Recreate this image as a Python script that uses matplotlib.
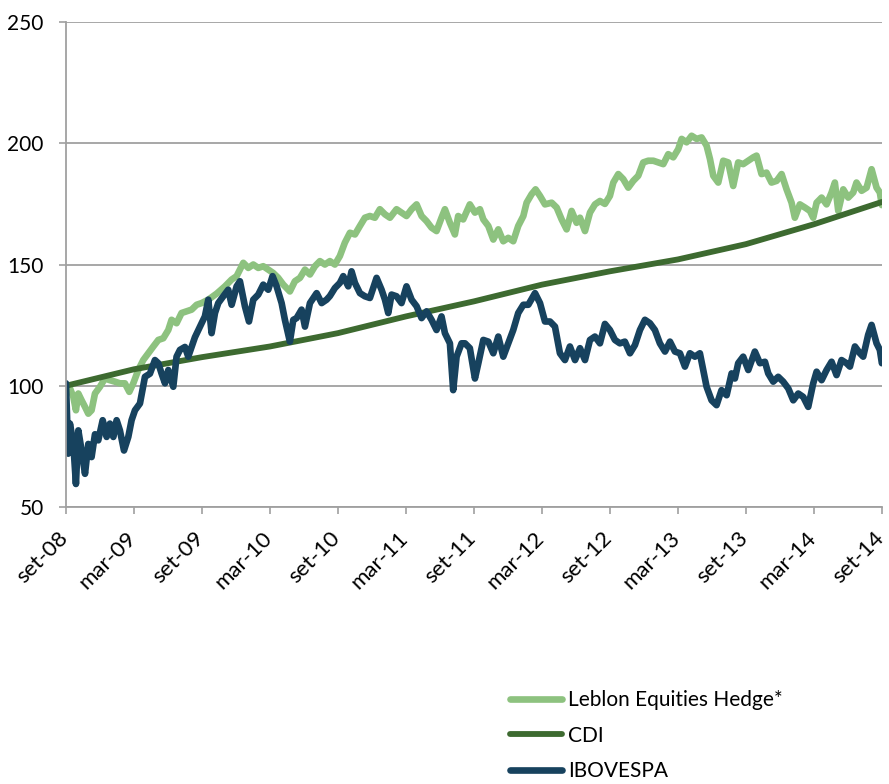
import matplotlib
matplotlib.use("Agg")
import matplotlib.pyplot as plt
import matplotlib.transforms as mtransforms

plt.rcParams["font.family"] = ["Lato", "DejaVu Sans"]

# x values are months since set-08
tick_labels = ["set-08", "mar-09", "set-09", "mar-10", "set-10", "mar-11", "set-11",
               "mar-12", "set-12", "mar-13", "set-13", "mar-14", "set-14"]

leblon_months = [
    0, 0.35, 0.65, 0.88, 1.09, 1.38, 1.68, 1.97, 2.26, 2.56, 3.0, 3.44, 3.88, 4.32, 4.76,
    5.2, 5.59, 5.94, 6.38, 6.82, 7.26, 7.71, 8.15, 8.59, 9.03, 9.32, 9.76, 10.2, 10.65,
    11.09, 11.53, 11.97, 12.56, 13.3, 14.03, 14.62, 15.06, 15.65, 16.09, 16.53, 16.97,
    17.41, 17.85, 18.29, 18.73, 19.18, 19.76, 20.2, 20.65, 21.09, 21.53, 21.97, 22.41,
    22.85, 23.29, 23.73, 24.17, 24.61, 25.06, 25.5, 25.94, 26.38, 26.82, 27.26, 27.7,
    28.15, 28.59, 29.17, 29.61, 30.05, 30.5, 30.94, 31.38, 31.82, 32.26, 32.7, 33.14,
    33.44, 33.88, 34.32, 34.61, 35.05, 35.64, 36.09, 36.53, 36.83, 37.27, 37.71, 38.15,
    38.59, 39.03, 39.47, 39.91, 40.36, 40.65, 41.09, 41.44, 41.83, 42.27, 42.86, 43.3,
    43.74, 44.18, 44.62, 45.06, 45.36, 45.8, 46.24, 46.68, 47.12, 47.56, 48.0, 48.3,
    48.74, 49.18, 49.62, 50.06, 50.5, 50.94, 51.38, 51.83, 52.27, 52.71, 53.15, 53.59,
    54.03, 54.33, 54.77, 55.21, 55.65, 56.09, 56.53, 56.83, 57.12, 57.56, 58.0, 58.44,
    58.88, 59.32, 59.76, 60.21, 60.65, 60.94, 61.38, 61.82, 62.26, 62.71, 63.15, 63.59,
    64.03, 64.32, 64.76, 65.21, 65.65, 65.94, 66.24, 66.68, 67.12, 67.56, 67.85, 68.15,
    68.59, 69.03, 69.47, 69.76, 70.21, 70.65, 71.09, 71.53, 71.82, 72.0]
leblon = [
    100, 99, 95.4, 89.9, 96.8, 94, 91.3, 88.5, 89.9, 96.8, 99.6, 103, 102.3, 101.7, 101,
    101, 97.5, 101, 106.5, 110.6, 113.4, 116.2, 118.9, 119.6, 123, 127.2, 125.8, 130, 130.7,
    131.4, 133.4, 134.1, 135.5, 138, 141, 143.8, 145.2, 150.7, 148.6, 150, 148.6,
    149.3, 147.9, 146.5, 144.5, 141.7, 138.9, 143.1, 144.5, 147.9, 145.9, 149.3, 151.4,
    150, 151.4, 150, 153.5, 159, 163.1, 162.4, 165.9, 169.3, 170, 169.3, 172.8,
    170.7, 169.3, 172.8, 171.4, 170, 172.8, 174.8, 170, 167.9, 165.2, 163.8, 169.3,
    172.8, 167.2, 162.4, 170, 168.6, 174.8, 171.4, 172.8, 168.6, 165.9, 160.3, 164.5,
    159.6, 161, 159.6, 165.9, 170, 175.5, 179, 181, 178.3, 174.8, 175.5, 173.5,
    168.6, 164.5, 172.1, 167.2, 169.3, 163.8, 171.4, 174.8, 176.2, 175, 178.3, 183.8,
    187.3, 185.2, 181.7, 184.5, 186.6, 192.1, 192.8, 192.8, 192.1, 191.4, 195.5, 194.2,
    197.6, 201.8, 200.4, 203.1, 201.8, 202.4, 199, 193.5, 186.6, 183.8, 192.8, 192.1,
    182.4, 192.1, 191.4, 192.8, 194.2, 194.9, 187.3, 187.9, 183.8, 184.5, 187.3, 181,
    175.5, 169.3, 174.8, 173.5, 172.1, 169.3, 175.5, 177.6, 174.8, 179.7, 183.8, 172.1,
    181, 177.6, 179.7, 183.8, 180.4, 181.7, 189.3, 181.7, 179.7, 174.5]

cdi_months = [0, 6, 12, 18, 24, 30, 36, 42, 48, 54, 60, 66, 72]
cdi = [100, 106.8, 111.8, 116.2, 121.7, 128.6, 134.8, 141.7, 147.2, 152.1, 158.4, 166.6, 175.8]

ibov_months = [
    0, 0.2, 0.35, 0.65, 0.88, 1.09, 1.38, 1.68, 1.97, 2.26, 2.56, 2.85, 3.24, 3.59, 3.88,
    4.18, 4.47, 4.76, 5.12, 5.5, 5.79, 6.09, 6.53, 6.97, 7.41, 7.85, 8.15, 8.44, 8.74,
    9.03, 9.47, 9.76, 10.06, 10.5, 10.79, 11.09, 11.38, 11.68, 11.97, 12.26, 12.56, 12.85,
    13.15, 13.44, 13.88, 14.32, 14.62, 15.06, 15.35, 15.79, 16.15, 16.53, 16.97, 17.41,
    17.85, 18.23, 18.59, 19.03, 19.32, 19.76, 20.06, 20.35, 20.79, 21.09, 21.53, 22.12,
    22.56, 23.0, 23.29, 23.73, 24.17, 24.47, 24.91, 25.2, 25.5, 25.94, 26.38, 26.82,
    27.41, 27.85, 28.15, 28.44, 28.73, 29.17, 29.61, 30.05, 30.5, 30.94, 31.38, 31.82,
    32.26, 32.7, 33.14, 33.44, 33.88, 34.17, 34.47, 34.91, 35.21, 35.64, 36.09, 36.39,
    36.83, 37.27, 37.71, 38.15, 38.59, 39.03, 39.47, 39.91, 40.36, 40.8, 41.39, 41.83,
    42.27, 42.71, 43.15, 43.59, 44.03, 44.47, 44.92, 45.36, 45.8, 46.24, 46.68, 47.12,
    47.56, 48.0, 48.44, 48.88, 49.32, 49.77, 50.21, 50.65, 51.09, 51.53, 51.97, 52.41,
    52.86, 53.3, 53.74, 54.18, 54.62, 55.06, 55.5, 55.94, 56.24, 56.53, 56.97, 57.41,
    57.85, 58.3, 58.74, 59.03, 59.32, 59.76, 60.21, 60.79, 61.24, 61.68, 61.97, 62.41,
    62.85, 63.29, 63.74, 64.18, 64.62, 65.06, 65.5, 65.94, 66.24, 66.68, 67.12, 67.56,
    68.0, 68.44, 68.88, 69.18, 69.62, 70.06, 70.35, 70.79, 71.09, 71.53, 71.82, 72.0]
ibov = [
    101, 72, 84.4, 76, 59.5, 81.6, 73.3, 63.7, 76, 70.6, 80, 77.5, 85.8, 78.9, 84.4,
    78.9, 85.8, 81.6, 73.3, 78.9, 85.8, 89.9, 92.7, 103.7, 105, 110.6, 109.3, 105, 101,
    106.5, 99.6, 112, 114.8, 116, 112, 116, 120, 123, 125.8, 128.6, 135.5, 121.7,
    130, 134.1, 136.9, 139.6, 133.4, 141, 143.1, 132.8, 126.5, 135.5, 137.6, 141.7,
    139.6, 145.2, 141, 134.1, 127.2, 118.2, 127.2, 127.9, 131.4, 124.4, 134.1, 138.2,
    134.1, 135.5, 137, 140.3, 142.4, 145.2, 141, 147.2, 142.4, 138.2, 136.9, 136.2,
    144.5, 139.6, 135.5, 130, 137.6, 136.9, 134.1, 141, 135.5, 132.8, 127.9, 130.7,
    127.2, 123, 128.6, 121.7, 117.5, 98.2, 112, 117.5, 117.5, 115.5, 103, 109.3,
    118.9, 118.2, 113.4, 120.3, 112, 117.5, 123, 130, 133.4, 133.4, 138.2, 134.1,
    126.5, 126.5, 124.4, 113.4, 110.6, 116.2, 110.6, 115.5, 110.6, 118.9, 120.3, 117.5,
    125.5, 123, 118.9, 117.5, 118.2, 113.4, 116.8, 123, 127.2, 125.8, 123, 117.5,
    114.1, 118.2, 114.1, 113.4, 107.9, 113.4, 112, 113.4, 106.5, 99.6, 94, 92,
    98.2, 96.1, 105.1, 103, 109.3, 112, 106.5, 114.1, 109.3, 109.9, 105.1, 101.7,
    103.7, 101.7, 98.9, 94, 96.8, 95.4, 91.3, 101, 105.8, 102.3, 106.5, 109.9,
    104.4, 110.6, 109.3, 107.9, 116.2, 113.4, 112, 121, 125.1, 117.5, 114.8, 109.3]

fig = plt.figure(figsize=(8.89, 7.84), dpi=100)
ax = fig.add_axes([0.0742, 0.3533, 0.9178, 0.6186])

ax.plot(leblon_months, leblon, color="#8dc27f", lw=4.8, solid_joinstyle="round",
        solid_capstyle="round", label="Leblon Equities Hedge*")
ax.plot(cdi_months, cdi, color="#3d6a30", lw=4.2, solid_capstyle="round",
        label="CDI")
ax.plot(ibov_months, ibov, color="#17425e", lw=4.8, solid_joinstyle="round",
        solid_capstyle="round", label="IBOVESPA")

ax.set_xlim(0, 72)
ax.set_ylim(50, 250)
ax.set_yticks([50, 100, 150, 200, 250])
ax.set_xticks(range(0, 73, 6))
ax.set_xticklabels(tick_labels, rotation=45, ha="right", va="center",
                   rotation_mode="anchor")
ax.grid(axis="y", color="#a0a0a0", lw=1.3)
ax.set_axisbelow(True)
for side in ["top", "right"]:
    ax.spines[side].set_visible(False)
for side in ["left", "bottom"]:
    ax.spines[side].set_color("#a0a0a0")
    ax.spines[side].set_linewidth(1.3)
ax.tick_params(axis="both", colors="#a0a0a0", length=5, width=1.2, labelcolor="black",
               labelsize=15)
ax.tick_params(axis="y", pad=11)
ax.tick_params(axis="x", pad=15, labelsize=16)
offset = mtransforms.ScaledTranslation(-1 / 100, 0, fig.dpi_scale_trans)
for lab in ax.get_xticklabels():
    lab.set_transform(lab.get_transform() + offset)

fig.legend(loc="upper left", bbox_to_anchor=(510 / 889, 1 - 690 / 784), frameon=False,
           borderaxespad=0, borderpad=0, handlelength=2.5, handletextpad=0.3,
           labelspacing=0.75, fontsize=15)

fig.savefig("out.png", dpi=100)
